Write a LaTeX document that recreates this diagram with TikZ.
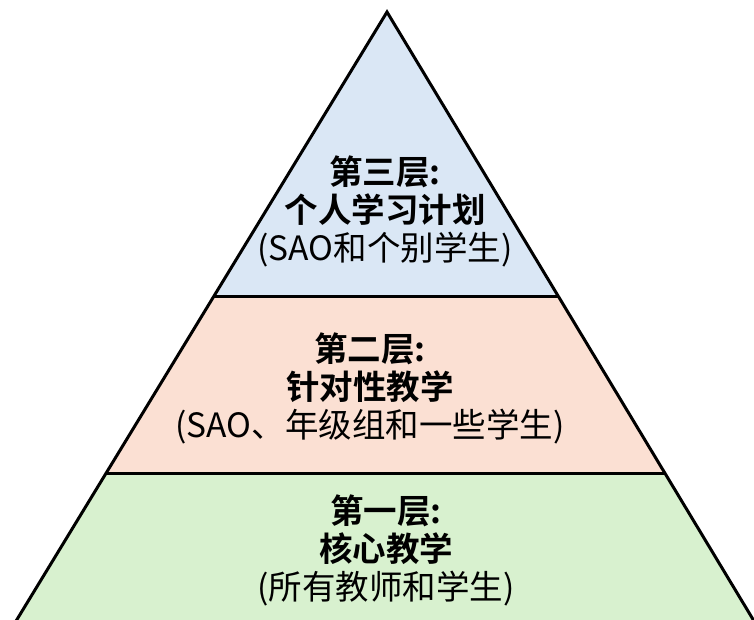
\documentclass[tikz,border=0pt]{standalone}
\usepackage{fontspec}
\newfontfamily\cjk{Noto Sans CJK SC}[BoldFont={Noto Sans CJK SC Bold}]
\usetikzlibrary{calc,positioning}

\definecolor{tierblue}{HTML}{DAE7F5}
\definecolor{tierpink}{HTML}{FBE0D3}
\definecolor{tiergreen}{HTML}{D8F1CF}

\tikzset{
  tieredge/.style={line width=3pt, line cap=butt},
  tiertext/.style={align=center, inner sep=0pt, font=\cjk\fontsize{33.5}{38}\selectfont},
}

\begin{document}
\begin{tikzpicture}[x=1pt, y=-1pt]
    \useasboundingbox (0,0) rectangle (754,620);

    % corners of the pyramid
    \coordinate (apex) at (387,12);
    \coordinate (bl) at (13,626);
    \coordinate (br) at (757,626);
    \coordinate (l3) at ($(apex)!0.464!(bl)$);
    \coordinate (r3) at ($(apex)!0.464!(br)$);
    \coordinate (l2) at ($(apex)!0.751!(bl)$);
    \coordinate (r2) at ($(apex)!0.751!(br)$);

    \fill [tierblue] (apex) -- (r3) -- (l3) -- cycle;
    \fill [tierpink] (l3) -- (r3) -- (r2) -- (l2) -- cycle;
    \fill [tiergreen] (l2) -- (r2) -- (br) -- (bl) -- cycle;

    \draw [tieredge] (l3) -- (r3);
    \draw [tieredge] (l2) -- (r2);
    \draw [tieredge] (bl) -- (apex) -- (br);

    \node [tiertext] (tier3) at (385,211) {\textbf{第三层:}\\\textbf{个人学习计划}\\(SAO和个别学生)};
    \node [tiertext] (tier2) at (370,388) {\textbf{第二层:}\\\textbf{针对性教学}\\(SAO、年级组和一些学生)};
    \node [tiertext] (tier1) at (386,550) {\textbf{第一层:}\\\textbf{核心教学}\\(所有教师和学生)};
\end{tikzpicture}
\end{document}
